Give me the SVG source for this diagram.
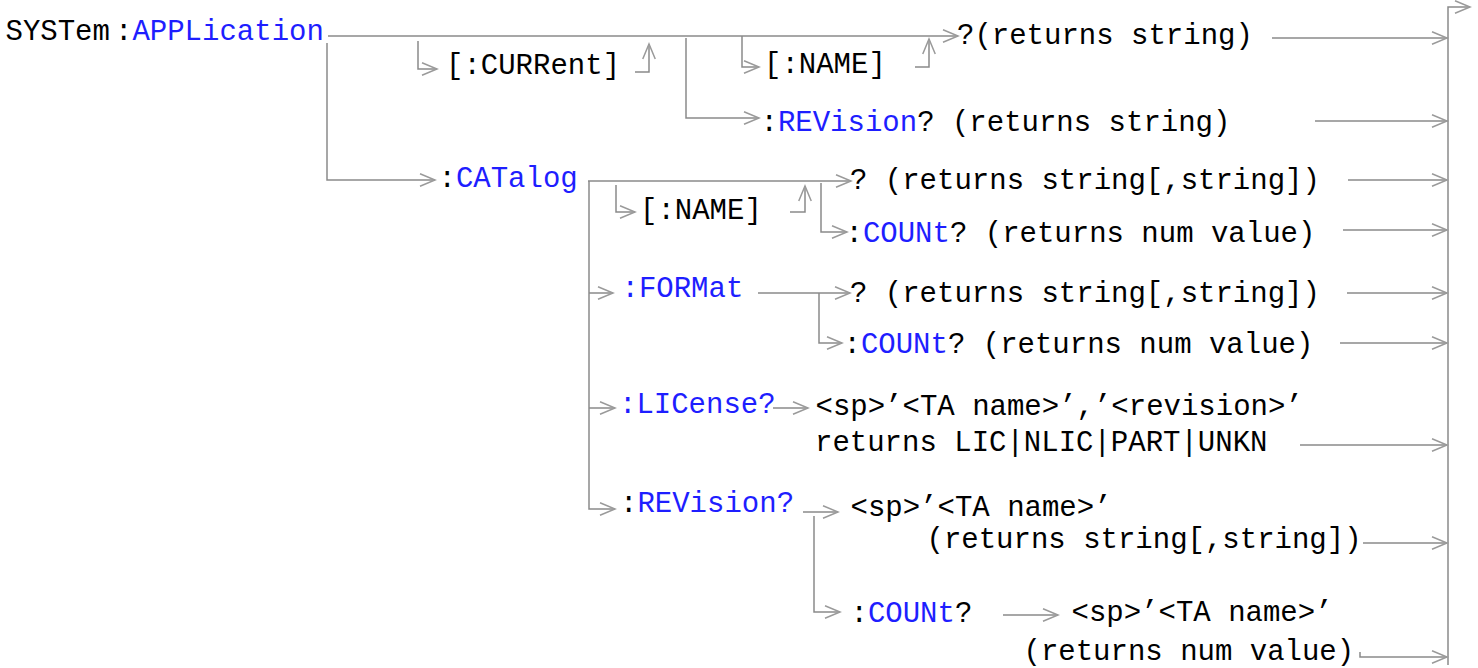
<svg xmlns="http://www.w3.org/2000/svg" width="1478" height="668" viewBox="0 0 1478 668">
<style>
text{font-family:"Liberation Mono","Courier New",monospace;font-size:29px;fill:#000;white-space:pre}
.b{fill:#1e1eff}
.c{fill:none;stroke:#8a8a8a;stroke-width:1.5}
</style>
<defs>
<marker id="ah" markerUnits="userSpaceOnUse" markerWidth="20" markerHeight="20" viewBox="-14 -8 16 16" refX="0" refY="0" orient="auto">
<path d="M-12,-5 L0,0 L-12,5" fill="none" stroke="#9a9a9a" stroke-width="1.2"/>
</marker>
</defs>
<rect width="1478" height="668" fill="#fff"/>
<g id="connectors">
<path class="c" d="M328,36 H958" marker-end="url(#ah)"/>
<path class="c" d="M327,43 V180 H435" marker-end="url(#ah)"/>
<path class="c" d="M418,41 V69 H437" marker-end="url(#ah)"/>
<path class="c" d="M635,72 H649 V44" marker-end="url(#ah)"/>
<path class="c" d="M686,38 V118 H759" marker-end="url(#ah)"/>
<path class="c" d="M742,36 V67 H759" marker-end="url(#ah)"/>
<path class="c" d="M915,67 H929 V39" marker-end="url(#ah)"/>
<path class="c" d="M1272,38 H1447" marker-end="url(#ah)"/>
<path class="c" d="M1315,121 H1447" marker-end="url(#ah)"/>
<path class="c" d="M1448,665 V7 H1470" marker-end="url(#ah)"/>
<path class="c" d="M588,181 H851" marker-end="url(#ah)"/>
<path class="c" d="M589,181 V509 H615" marker-end="url(#ah)"/>
<path class="c" d="M616,185 V212 H635" marker-end="url(#ah)"/>
<path class="c" d="M790,212 H805 V186" marker-end="url(#ah)"/>
<path class="c" d="M821,183 V232 H847" marker-end="url(#ah)"/>
<path class="c" d="M1348,180 H1447" marker-end="url(#ah)"/>
<path class="c" d="M1343,230 H1447" marker-end="url(#ah)"/>
<path class="c" d="M589,293 H613" marker-end="url(#ah)"/>
<path class="c" d="M758,293 H850" marker-end="url(#ah)"/>
<path class="c" d="M819,293 V343 H842" marker-end="url(#ah)"/>
<path class="c" d="M1347,293 H1447" marker-end="url(#ah)"/>
<path class="c" d="M1340,343 H1447" marker-end="url(#ah)"/>
<path class="c" d="M589,408 H615" marker-end="url(#ah)"/>
<path class="c" d="M773,408 H808" marker-end="url(#ah)"/>
<path class="c" d="M1300,445 H1447" marker-end="url(#ah)"/>
<path class="c" d="M803,512 H838" marker-end="url(#ah)"/>
<path class="c" d="M814,516 V612 H840" marker-end="url(#ah)"/>
<path class="c" d="M1363,543 H1447" marker-end="url(#ah)"/>
<path class="c" d="M1003,615 H1058" marker-end="url(#ah)"/>
<path class="c" d="M1360,652 V657 H1447" marker-end="url(#ah)"/>
</g>
<g id="n-system"><text x="5.5" y="40">SYSTem</text></g>
<g id="n-application"><text x="115" y="40">:<tspan class="b">APPLication</tspan></text></g>
<g id="n-current"><text x="446" y="74">[:CURRent]</text></g>
<g id="n-name1"><text x="764" y="73">[:NAME]</text></g>
<g id="n-ret1"><text x="957" y="44">?(returns string)</text></g>
<g id="n-revision1"><text x="760.5" y="131">:<tspan class="b">REVision</tspan>? (returns string)</text></g>
<g id="n-catalog"><text x="438.5" y="187">:<tspan class="b">CATalog</tspan></text></g>
<g id="n-ret3"><text x="850" y="189">? (returns string[,string])</text></g>
<g id="n-name2"><text x="640" y="219">[:NAME]</text></g>
<g id="n-count1"><text x="845.5" y="242">:<tspan class="b">COUNt</tspan>? (returns num value)</text></g>
<g id="n-format"><text x="621.5" y="297" class="b">:FORMat</text></g>
<g id="n-ret6"><text x="850" y="302">? (returns string[,string])</text></g>
<g id="n-count2"><text x="843.5" y="353">:<tspan class="b">COUNt</tspan>? (returns num value)</text></g>
<g id="n-license"><text x="619" y="413" class="b">:LICense?</text></g>
<g id="n-license-args"><text x="815.5" y="415">&lt;sp&gt;’&lt;TA name&gt;’,’&lt;revision&gt;’</text><text x="815" y="451">returns LIC|NLIC|PART|UNKN</text></g>
<g id="n-revision2"><text x="620" y="512">:<tspan class="b">REVision?</tspan></text></g>
<g id="n-revision2-args"><text x="850.5" y="516">&lt;sp&gt;’&lt;TA name&gt;’</text><text x="926.5" y="548">(returns string[,string])</text></g>
<g id="n-count3"><text x="850.5" y="622">:<tspan class="b">COUNt</tspan>?</text></g>
<g id="n-count3-args"><text x="1071.5" y="621">&lt;sp&gt;’&lt;TA name&gt;’</text><text x="1023.5" y="660">(returns num value)</text></g>
</svg>
